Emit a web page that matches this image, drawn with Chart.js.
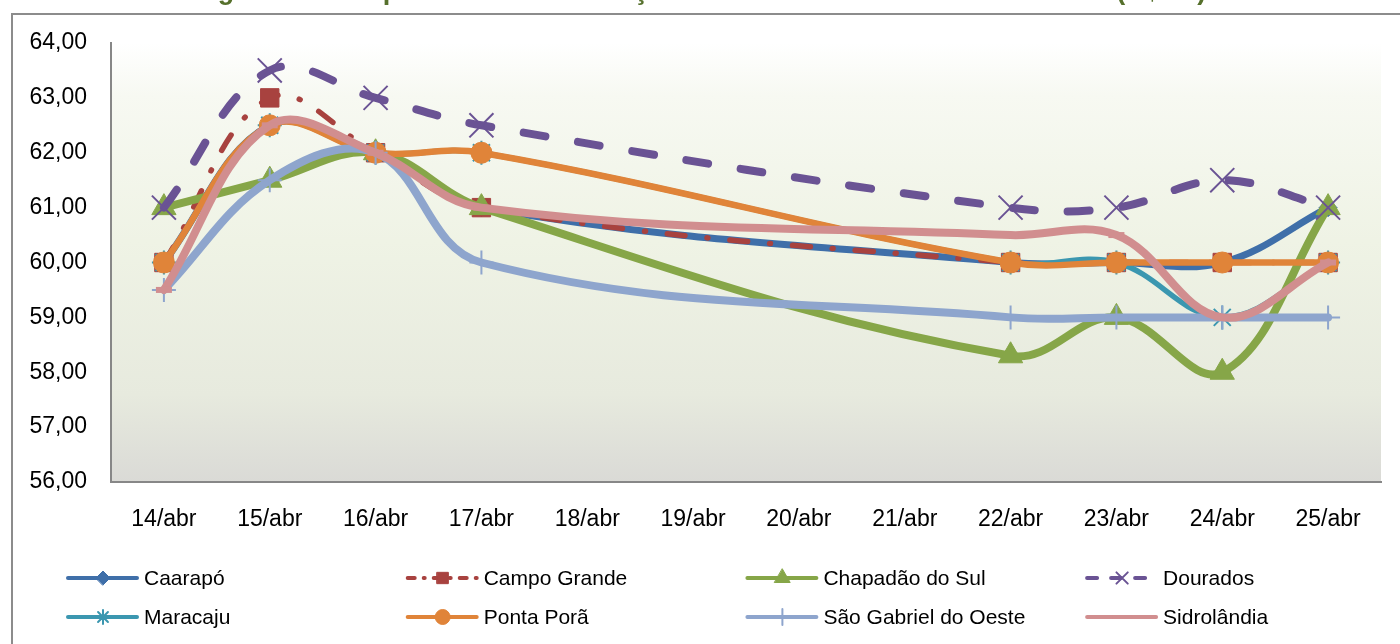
<!DOCTYPE html>
<html lang="pt-BR">
<head>
<meta charset="utf-8">
<title>Cotação diária por praça</title>
<script src="https://cdn.jsdelivr.net/npm/chart.js@4/dist/chart.umd.min.js"></script>
<style>
  html, body { margin: 0; padding: 0; background: #fff; }
  #wrap { position: relative; width: 1400px; height: 644px; }
</style>
</head>
<body>
<div id="wrap"><canvas id="chart"></canvas></div>
<script>
// Daily prices per town, R$/sc. 18–21/abr have no quotes (Excel spans the gap).
const categories = ['14/abr', '15/abr', '16/abr', '17/abr', '18/abr', '19/abr',
  '20/abr', '21/abr', '22/abr', '23/abr', '24/abr', '25/abr'];
const yTicks = [56, 57, 58, 59, 60, 61, 62, 63, 64];

const caarapo      = [60,   62.5, 62, 61,   null, null, null, null, 60,   60,   60,   61];
const campoGrande  = [60,   63,   62, 61,   null, null, null, null, 60,   60,   60,   60];
const chapadao     = [61,   61.5, 62, 61,   null, null, null, null, 58.3, 59,   58,   61];
const dourados     = [61,   63.5, 63, 62.5, null, null, null, null, 61,   61,   61.5, 61];
const maracaju     = [60,   62.5, 62, 62,   null, null, null, null, 60,   60,   59,   60];
const pontaPora    = [60,   62.5, 62, 62,   null, null, null, null, 60,   60,   60,   60];
const saoGabriel   = [59.5, 61.5, 62, 60,   null, null, null, null, 59,   59,   59,   59];
const sidrolandia  = [59.5, 62.5, 62, 61,   null, null, null, null, 60.5, 60.5, 59,   60];

const TITLE = 'Figura 2 - Comportamento da cotação do milho em Mato Grosso do Sul (R$/sc)';
const FONT = '"Liberation Sans", Arial, sans-serif';

function series(label, data, color, width, style, radius, extra) {
  return Object.assign({
    label, data,
    borderColor: color,
    backgroundColor: color,
    borderWidth: width,
    borderCapStyle: 'round',
    borderJoinStyle: 'round',
    pointStyle: style,
    pointRadius: radius,
    pointHoverRadius: radius,
    pointBackgroundColor: color,
    pointBorderColor: color,
    pointBorderWidth: 1,
    tension: 0.38,
    spanGaps: true,
    fill: false,
  }, extra || {});
}

const datasets = [
  series('Caarapó', caarapo, '#3F6FA9', 7, 'rectRot', 9),
  series('Campo Grande', campoGrande, '#A8423F', 5.5, 'rect', 13, { borderDash: [18, 22, 1, 22] }),
  series('Chapadão do Sul', chapadao, '#86A648', 8, 'triangle', 14),
  series('Dourados', dourados, '#6A5394', 8, 'crossRot', 17, { borderDash: [22, 33], pointBorderWidth: 2 }),
  series('Maracaju', maracaju, '#3B97B0', 5.5, 'star', 12, { pointBorderWidth: 2 }),
  series('Ponta Porã', pontaPora, '#E08439', 6.5, 'circle', 10.5),
  series('São Gabriel do Oeste', saoGabriel, '#8EA5CD', 8, 'cross', 12, { pointBorderWidth: 2 }),
  series('Sidrolândia', sidrolandia, '#D18E8F', 8, 'line', 8, { pointBorderWidth: 6 }),
];
// Excel paints later series on top: lower `order` is drawn last in Chart.js.
datasets.forEach((d, i) => { d.order = datasets.length - i; });

// legend sample look (smaller than the plotted marks)
const legendDash = [[], [7, 9, 1, 9], [], [10, 14], [], [], [], []];
const legendRadius = [7, 8, 9, 8, 7, 7.5, 8, 8];

const frame = {
  id: 'frame',
  beforeDraw(chart) {
    const { ctx, chartArea: a } = chart;
    ctx.save();
    // title, cut off by the top edge of the picture (only descenders show)
    ctx.fillStyle = '#56702C';
    ctx.font = 'bold 27px ' + FONT;
    ctx.textAlign = 'center';
    ctx.textBaseline = 'alphabetic';
    ctx.fillText(TITLE, 700, -1.5);
    // outer chart border
    ctx.strokeStyle = '#8C8C8C';
    ctx.lineWidth = 2;
    ctx.strokeRect(12, 14, 1500, 700);
    // plot area gradient
    const g = ctx.createLinearGradient(0, a.top, 0, a.bottom);
    g.addColorStop(0, '#FFFFFF');
    g.addColorStop(0.12, '#F7F9F2');
    g.addColorStop(0.45, '#EFF3E5');
    g.addColorStop(0.8, '#E7EADE');
    g.addColorStop(1, '#DADAD6');
    ctx.fillStyle = g;
    ctx.fillRect(a.left, a.top, a.right - a.left, a.bottom - a.top);
    ctx.restore();
  },
  afterDraw(chart) {
    const ctx = chart.ctx;
    chart.data.datasets.forEach((ds, i) => {
      const x = 68 + (i % 4) * 339.7;
      const y = 578 + Math.floor(i / 4) * 39;
      ctx.save();
      ctx.strokeStyle = ds.borderColor;
      ctx.lineWidth = 4;
      ctx.lineCap = 'round';
      ctx.setLineDash(legendDash[i]);
      ctx.beginPath();
      ctx.moveTo(x, y);
      ctx.lineTo(x + 69, y);
      ctx.stroke();
      ctx.setLineDash([]);
      ctx.fillStyle = ds.pointBackgroundColor;
      ctx.strokeStyle = ds.pointBorderColor;
      ctx.lineWidth = Math.min(ds.pointBorderWidth, 4);
      Chart.helpers.drawPoint(ctx, {
        pointStyle: ds.pointStyle, rotation: 0,
        radius: legendRadius[i], borderWidth: ctx.lineWidth,
      }, x + 35, y);
      ctx.fillStyle = '#000';
      ctx.font = '21px ' + FONT;
      ctx.textAlign = 'left';
      ctx.textBaseline = 'middle';
      ctx.fillText(ds.label, x + 76, y + 1);
      ctx.restore();
    });
  },
};

new Chart(document.getElementById('chart'), {
  type: 'line',
  data: { labels: categories, datasets },
  options: {
    responsive: true,
    maintainAspectRatio: false,
    animation: false,
    layout: { padding: { top: 43, right: 18, bottom: 100, left: 0 } },
    plugins: { legend: { display: false }, tooltip: { enabled: false } },
    scales: {
      x: {
        offset: true,
        grid: { display: false, drawTicks: false },
        border: { display: true, color: '#878787', width: 2 },
        ticks: { color: '#000', padding: 24, font: { family: FONT, size: 23 }, maxRotation: 0, autoSkip: false },
        afterFit: (s) => { s.height = 62; },
      },
      y: {
        min: yTicks[0],
        max: yTicks[yTicks.length - 1],
        afterBuildTicks: (s) => { s.ticks = yTicks.map((v) => ({ value: v })); },
        grid: { display: false, drawTicks: false },
        border: { display: true, color: '#878787', width: 2 },
        ticks: {
          color: '#000', padding: 24, font: { family: FONT, size: 23 },
          callback: (v) => Number(v).toFixed(2).replace('.', ','),
        },
        afterFit: (s) => { s.width = 111; },
      },
    },
  },
  plugins: [frame],
});
</script>
</body>
</html>
